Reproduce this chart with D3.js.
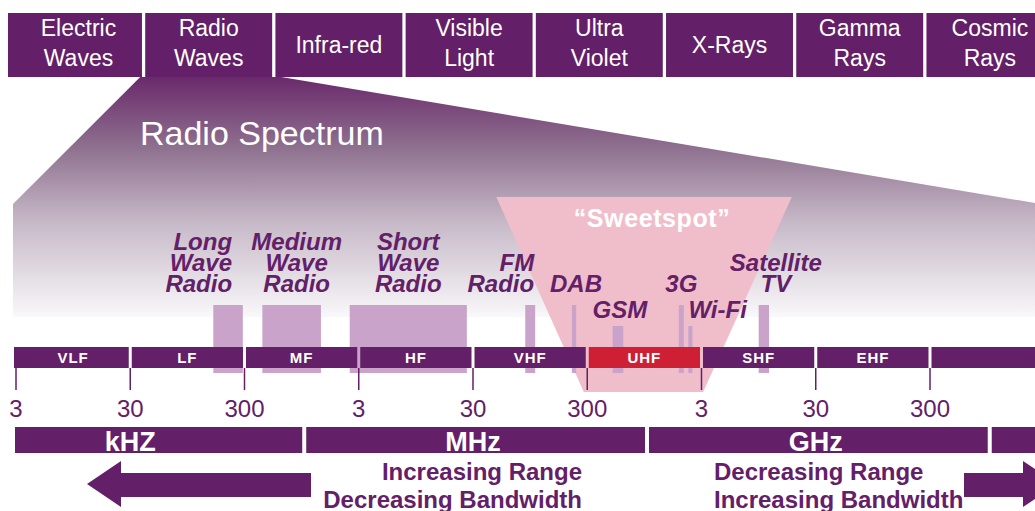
<!DOCTYPE html>
<html>
<head>
<meta charset="utf-8">
<script src="https://cdn.jsdelivr.net/npm/d3@7"></script>
<style>
  body { margin: 0; background: #fff; }
  svg { display: block; font-family: "Liberation Sans", Arial, sans-serif; }
</style>
</head>
<body>
<script>
// electromagnetic spectrum boxes along the top
const spectrumNames = [["Electric", "Waves"], ["Radio", "Waves"], ["Infra-red"], ["Visible", "Light"],
                       ["Ultra", "Violet"], ["X-Rays"], ["Gamma", "Rays"], ["Cosmic", "Rays"]]

// radio bands (Hz), one segment per decade
const bandNames = ["VLF", "LF", "MF", "HF", "VHF", "UHF", "SHF", "EHF", ""]
const bandEdges = [3e3, 3e4, 3e5, 3e6, 3e7, 3e8, 3e9, 3e10, 3e11, 3e12]

const tickValues = [3e3, 3e4, 3e5, 3e6, 3e7, 3e8, 3e9, 3e10, 3e11]
const tickLabels = ["3", "30", "300", "3", "30", "300", "3", "30", "300"]

const unitNames = ["kHZ", "MHz", "GHz", ""]
const unitEdges = [1e3, 1e6, 1e9, 1e12, 1e15]

// applications and their frequency ranges (Hz)
const appNames = [["Long", "Wave", "Radio"], ["Medium", "Wave", "Radio"], ["Short", "Wave", "Radio"],
                  ["FM", "Radio"], ["DAB"], ["GSM"], ["3G"], ["Wi-Fi"], ["Satellite", "TV"]]
const appLow  = [160e3, 430e3, 2.5e6, 86e6, 220e6, 500e6, 1.9e9, 2.3e9, 9.5e9]
const appHigh = [290e3, 1.4e6, 26.5e6, 105e6, 240e6, 620e6, 2.1e9, 2.5e9, 11.7e9]
const appRow  = [0, 0, 0, 0, 0, 1, 0, 1, 0]

// "sweetspot" funnel, top and bottom frequency edges
const sweetTop    = [48e6, 18.5e9]
const sweetBottom = [280e6, 3.1e9]

const PURPLE = "#632068",
      LIGHT  = "#c9a3c9",
      PINK   = "#f0becb",
      RED    = "#cf1f34"

const width = 1035, height = 511

const svg = d3.select("body").append("svg")
    .attr("width", width)
    .attr("height", height)

const x = d3.scaleLog().domain([3e3, 3e11]).range([16, 930])

// label layout per application (anchor + nudge in px)
const appAnchor = ["end", "middle", "middle", "end", "middle", "middle", "middle", "start", "middle"]
const appShift  = [4, 5, 0, 4, 2, 2, 0, -2, 12]

const defs = svg.append("defs")
const grad = defs.append("linearGradient")
    .attr("id", "fade")
    .attr("gradientUnits", "userSpaceOnUse")
    .attr("x1", 0).attr("x2", 0).attr("y1", 77).attr("y2", 317)
grad.append("stop").attr("offset", 0).attr("stop-color", "#6a2a6c")
grad.append("stop").attr("offset", 0.3).attr("stop-color", "#8f7290")
grad.append("stop").attr("offset", 0.6).attr("stop-color", "#c6b8c7")
grad.append("stop").attr("offset", 1).attr("stop-color", "#f9f8fa")

// top boxes
const xTop = d3.scaleBand()
    .domain(spectrumNames.map(d => d.join(" ")))
    .range([15, 15 + 8 * 129.8])
    .paddingInner(0.025)

const topRow = svg.append("g")
topRow.selectAll("rect")
    .data(spectrumNames)
    .enter()
    .append("rect")
        .attr("x", (d, i) => i === 0 ? 8 : xTop(d.join(" ")))
        .attr("width", (d, i) => xTop.bandwidth() + (i === 0 ? xTop(d.join(" ")) - 8 : 0))
        .attr("y", 13)
        .attr("height", 64)
        .attr("fill", PURPLE)

topRow.selectAll("text")
    .data(spectrumNames)
    .enter()
    .append("text")
        .attr("x", d => xTop(d.join(" ")) + xTop.bandwidth() / 2)
        .attr("y", d => d.length === 1 ? 53 : 36)
        .attr("text-anchor", "middle")
        .attr("fill", "#fff")
        .attr("font-size", "23px")
        .selectAll("tspan")
        .data(d => d)
        .enter()
        .append("tspan")
            .attr("x", function() { return this.parentNode.getAttribute("x") })
            .attr("dy", (d, i) => i === 0 ? 0 : 30)
            .text(d => d)

// zoomed radio spectrum wedge
const rx0 = xTop("Radio Waves"), rx1 = rx0 + xTop.bandwidth()
svg.append("path")
    .attr("d", d3.line()([[rx0 - 5, 77], [rx1 + 9, 77], [width, 203], [width, 317], [13, 317], [13, 204]]) + "Z")
    .attr("fill", "url(#fade)")

svg.append("text")
    .attr("x", 140)
    .attr("y", 145)
    .attr("fill", "#fff")
    .attr("font-size", "34px")
    .text("Radio Spectrum")

// sweetspot funnel
svg.append("path")
    .attr("d", d3.line()([[x(sweetTop[0]), 197], [x(sweetTop[1]), 197],
                          [x(sweetBottom[1]), 392], [x(sweetBottom[0]), 392]]) + "Z")
    .attr("fill", PINK)

svg.append("text")
    .attr("x", (x(sweetTop[0]) + x(sweetTop[1])) / 2 + 8)
    .attr("y", 227)
    .attr("text-anchor", "middle")
    .attr("fill", "#fff")
    .attr("font-weight", "bold")
    .attr("font-size", "25px")
    .attr("letter-spacing", "0.6px")
    .text("\u201cSweetspot\u201d")

// application bars
svg.append("g")
    .selectAll("rect")
    .data(appNames)
    .enter()
    .append("rect")
        .attr("x", (d, i) => x(appLow[i]))
        .attr("width", (d, i) => Math.max(3, x(appHigh[i]) - x(appLow[i])))
        .attr("y", (d, i) => appRow[i] === 0 ? 305 : 326)
        .attr("height", (d, i) => appRow[i] === 0 ? 68 : 47)
        .attr("fill", LIGHT)

// application labels
svg.append("g")
    .selectAll("text")
    .data(appNames)
    .enter()
    .append("text")
        .attr("x", (d, i) => (x(appLow[i]) + x(appHigh[i])) / 2 + appShift[i])
        .attr("y", (d, i) => (appRow[i] === 0 ? 292 : 318) - (d.length - 1) * 21)
        .attr("text-anchor", (d, i) => appAnchor[i])
        .attr("fill", PURPLE)
        .attr("font-weight", "bold")
        .attr("font-style", "italic")
        .attr("font-size", "24px")
        .selectAll("tspan")
        .data(d => d)
        .enter()
        .append("tspan")
            .attr("x", function() { return this.parentNode.getAttribute("x") })
            .attr("dy", (d, i) => i === 0 ? 0 : 21)
            .text(d => d)

// band row
const bands = svg.append("g")
bands.selectAll("rect")
    .data(bandNames)
    .enter()
    .append("rect")
        .attr("x", (d, i) => i === 0 ? x(bandEdges[i]) - 2 : x(bandEdges[i]) + 1.5)
        .attr("width", (d, i) => {
            const x0 = i === 0 ? x(bandEdges[i]) - 2 : x(bandEdges[i]) + 1.5
            const x1 = i === bandNames.length - 1 ? width : x(bandEdges[i + 1]) - 1.5
            return x1 - x0
        })
        .attr("y", 347)
        .attr("height", 21)
        .attr("fill", d => d === "UHF" ? RED : PURPLE)

bands.selectAll("text")
    .data(bandNames)
    .enter()
    .append("text")
        .attr("x", (d, i) => (x(bandEdges[i]) + x(bandEdges[i + 1])) / 2)
        .attr("y", 363)
        .attr("text-anchor", "middle")
        .attr("fill", "#fff")
        .attr("font-weight", "bold")
        .attr("font-size", "15px")
        .attr("letter-spacing", "1px")
        .text(d => d)

// ticks
const ticks = svg.append("g")
ticks.selectAll("line")
    .data(tickValues)
    .enter()
    .append("line")
        .attr("x1", d => x(d)).attr("x2", d => x(d))
        .attr("y1", 368).attr("y2", 390)
        .attr("stroke", PURPLE)
        .attr("stroke-width", 1.5)

ticks.selectAll("text")
    .data(tickValues)
    .enter()
    .append("text")
        .attr("x", d => x(d))
        .attr("y", 417)
        .attr("text-anchor", "middle")
        .attr("fill", PURPLE)
        .attr("font-size", "24px")
        .text((d, i) => tickLabels[i])

// unit bars
const units = svg.append("g")
units.selectAll("rect")
    .data(unitNames)
    .enter()
    .append("rect")
        .attr("x", (d, i) => i === 0 ? 15 : x(unitEdges[i]) + 2)
        .attr("width", (d, i) => {
            const x0 = i === 0 ? 15 : x(unitEdges[i]) + 2
            const x1 = i === unitNames.length - 1 ? width : x(unitEdges[i + 1]) - 2
            return x1 - x0
        })
        .attr("y", 427)
        .attr("height", 26)
        .attr("fill", PURPLE)

units.selectAll("text")
    .data(unitNames)
    .enter()
    .append("text")
        .attr("x", (d, i) => x(unitEdges[i] * 30))
        .attr("y", 451)
        .attr("text-anchor", "middle")
        .attr("fill", "#fff")
        .attr("font-weight", "bold")
        .attr("font-size", "27px")
        .text(d => d)

// arrows + captions
svg.append("path")
    .attr("d", d3.line()([[87, 484], [121, 461], [121, 473], [311, 473], [311, 497], [121, 497], [121, 507]]) + "Z")
    .attr("fill", PURPLE)
svg.append("path")
    .attr("d", d3.line()([[964, 473], [1023, 473], [1023, 461], [1057, 484], [1023, 507], [1023, 497], [964, 497]]) + "Z")
    .attr("fill", PURPLE)

const captions = [
    { x: 582, anchor: "end", lines: ["Increasing Range", "Decreasing Bandwidth"] },
    { x: 714, anchor: "start", lines: ["Decreasing Range", "Increasing Bandwidth"] }
]
svg.append("g")
    .selectAll("text")
    .data(captions)
    .enter()
    .append("text")
        .attr("x", d => d.x)
        .attr("y", 480)
        .attr("text-anchor", d => d.anchor)
        .attr("fill", PURPLE)
        .attr("font-weight", "bold")
        .attr("font-size", "24px")
        .selectAll("tspan")
        .data(d => d.lines)
        .enter()
        .append("tspan")
            .attr("x", function() { return this.parentNode.getAttribute("x") })
            .attr("dy", (d, i) => i === 0 ? 0 : 28)
            .text(d => d)
</script>
</body>
</html>
